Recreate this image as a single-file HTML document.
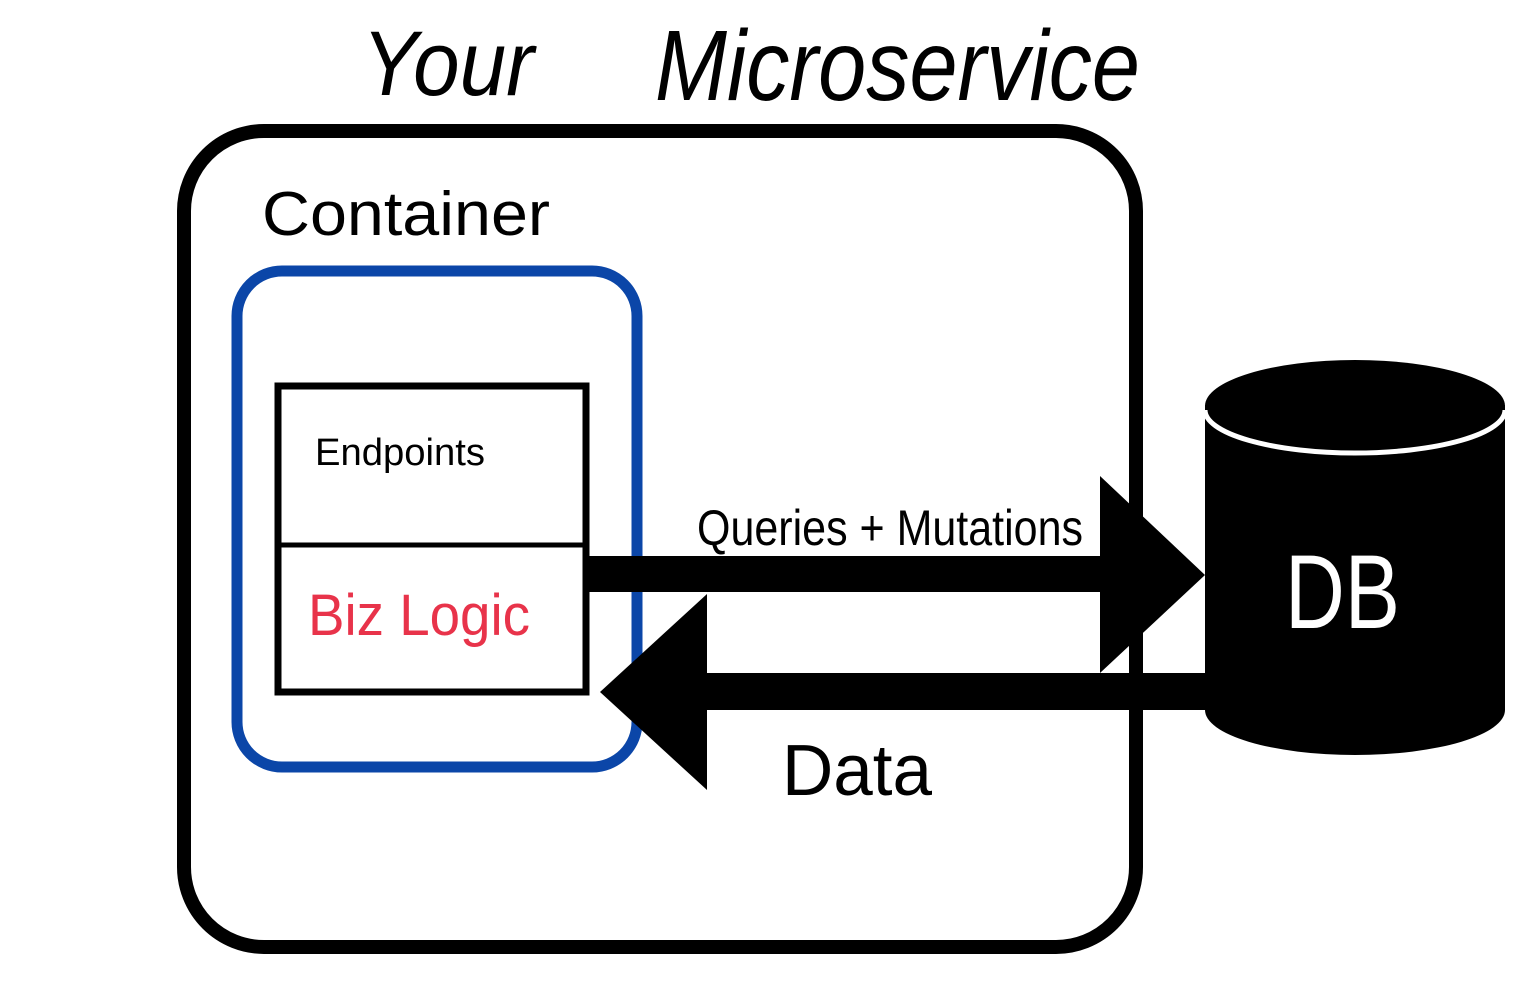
<!DOCTYPE html>
<html><head><meta charset="utf-8"><style>
html,body{margin:0;padding:0;background:#fff;width:1520px;height:1001px;overflow:hidden}
svg{display:block}
text{font-family:"Liberation Sans",sans-serif}
</style></head><body>
<svg width="1520" height="1001" viewBox="0 0 1520 1001">
<rect x="0" y="0" width="1520" height="1001" fill="#fff"/>
<text x="362" y="95" font-size="92" font-style="italic" fill="#000" textLength="172" lengthAdjust="spacingAndGlyphs">Your</text>
<text x="655" y="100" font-size="100" font-style="italic" fill="#000" textLength="485" lengthAdjust="spacingAndGlyphs">Microservice</text>
<rect x="184" y="131" width="952" height="816" rx="80" fill="none" stroke="#000" stroke-width="14"/>
<text x="262" y="235" font-size="62" fill="#000" textLength="288" lengthAdjust="spacingAndGlyphs">Container</text>
<rect x="237" y="271" width="400" height="496" rx="45" fill="none" stroke="#0b46a8" stroke-width="11"/>
<rect x="278" y="386" width="308" height="306" fill="#fff" stroke="#000" stroke-width="7"/>
<line x1="278" y1="545" x2="586" y2="545" stroke="#000" stroke-width="5"/>
<text x="315" y="465" font-size="38" fill="#000" textLength="170" lengthAdjust="spacingAndGlyphs">Endpoints</text>
<text x="308" y="635" font-size="58" fill="#e8334a" textLength="222" lengthAdjust="spacingAndGlyphs">Biz Logic</text>
<rect x="588" y="556" width="515" height="36" fill="#000"/>
<polygon points="1100,476 1205,575 1100,673" fill="#000"/>
<rect x="704" y="673" width="505" height="37" fill="#000"/>
<polygon points="707,594 600,692 707,790" fill="#000"/>
<text x="697" y="545" font-size="50" fill="#000" textLength="386" lengthAdjust="spacingAndGlyphs">Queries + Mutations</text>
<text x="782" y="795" font-size="72" fill="#000" textLength="150" lengthAdjust="spacingAndGlyphs">Data</text>
<rect x="1205" y="405" width="300" height="305" fill="#000"/>
<ellipse cx="1355" cy="710" rx="150" ry="45" fill="#000"/>
<ellipse cx="1355" cy="406" rx="150" ry="46" fill="#000"/>
<path d="M1205,410 A150,43 0 0 0 1505,410" fill="none" stroke="#fff" stroke-width="5"/>
<text x="1285" y="628" font-size="105" fill="#fff" textLength="115" lengthAdjust="spacingAndGlyphs">DB</text>
</svg>
</body></html>
